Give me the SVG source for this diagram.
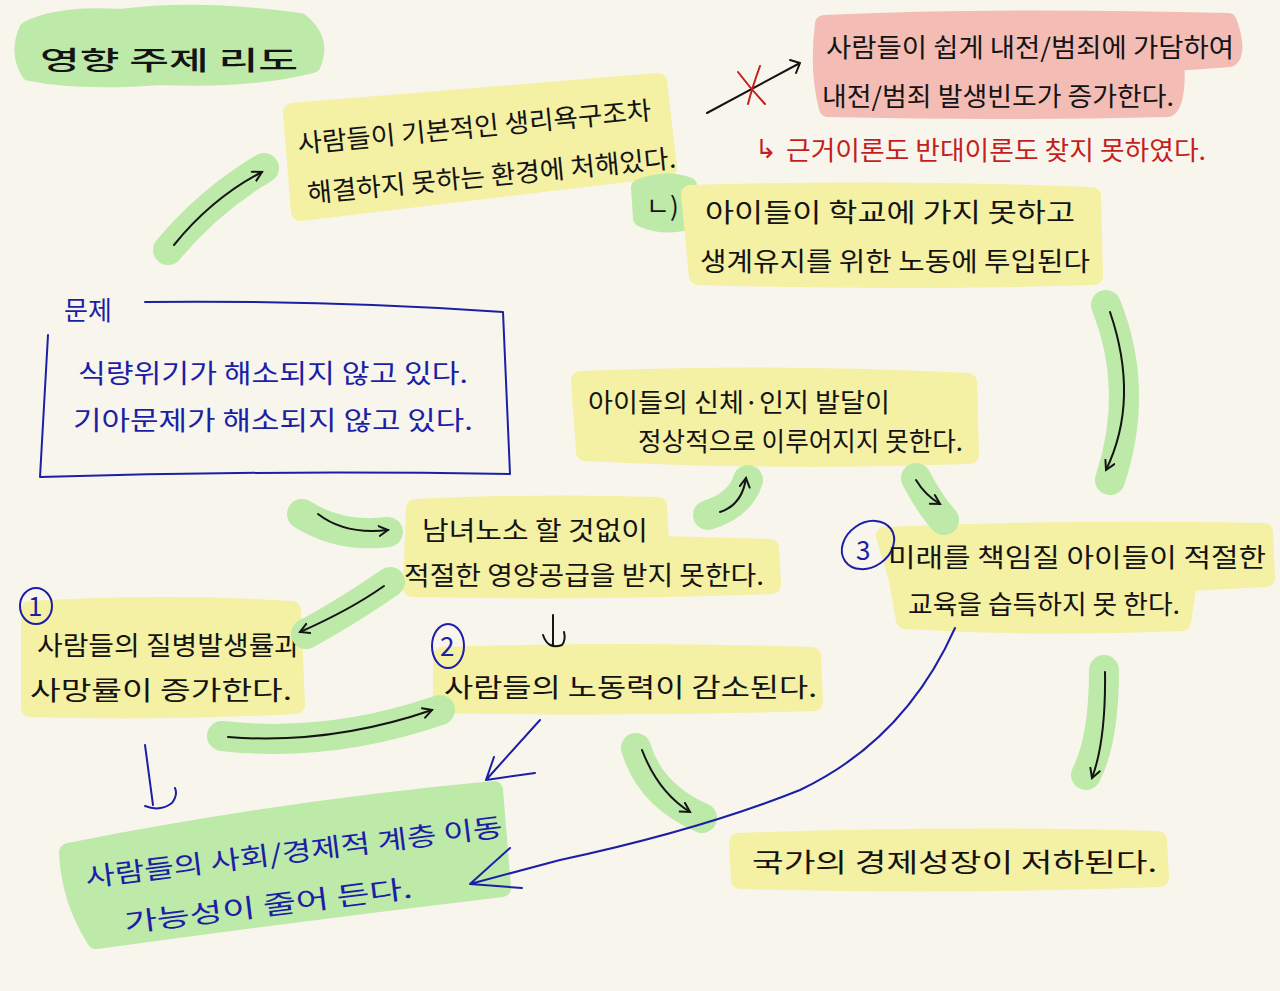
<svg xmlns="http://www.w3.org/2000/svg" width="1280" height="991" viewBox="0 0 1280 991">
<style>
.t{font-family:"Noto Sans CJK KR","Noto Sans",sans-serif;font-size:26px;fill:#141414}
.b{fill:#1c1fa6}
.r{fill:#c41e1e}
.hy{fill:#f4f0a4;stroke:#f4f0a4;stroke-width:18;stroke-linejoin:round}
.hg{fill:#bde9a9;stroke:#bde9a9;stroke-width:18;stroke-linejoin:round}
.hp{fill:#f3bcb4;stroke:#f3bcb4;stroke-width:18;stroke-linejoin:round}
.gs{fill:none;stroke:#bde9a9;stroke-width:30;stroke-linecap:round}
.k{fill:none;stroke:#141414;stroke-width:2;stroke-linecap:round;stroke-linejoin:round}
.bl{fill:none;stroke:#1c1fa6;stroke-width:2;stroke-linecap:round;stroke-linejoin:round}
.rl{fill:none;stroke:#c41e1e;stroke-width:2;stroke-linecap:round}
</style>
<defs>
<marker id="ah" markerWidth="14" markerHeight="14" refX="10" refY="6" orient="auto" markerUnits="userSpaceOnUse">
<path d="M1,1 L10,6 L1,11" fill="none" stroke="#141414" stroke-width="2" stroke-linecap="round"/>
</marker>
</defs>
<rect width="1280" height="991" fill="#f8f5ec"/>

<g id="title">
<path class="hg" d="M28,30 Q60,14 120,18 Q200,8 300,22 Q322,40 312,64 Q250,80 160,76 Q80,82 30,72 Q18,52 28,30 Z"/>
<text class="t" x="40" y="70" font-size="44" font-weight="500" textLength="258" lengthAdjust="spacingAndGlyphs">영향 주제 리도</text>
</g>

<g id="node-basic">
<path class="hy" d="M292,112 L658,82 L668,168 L300,212 Z"/>
<g transform="rotate(-5.5 480 160)">
<text class="t" x="300" y="136" textLength="355" lengthAdjust="spacingAndGlyphs">사람들이 기본적인 생리욕구조차</text>
<text class="t" x="305" y="186" textLength="370" lengthAdjust="spacingAndGlyphs">해결하지 못하는 환경에 처해있다.</text>
</g>
</g>

<g id="node-conflict">
<path class="hp" d="M824,24 Q1000,16 1228,22 Q1238,50 1230,58 L1175,62 Q1178,100 1168,108 Q1000,112 828,108 Q818,70 824,24 Z"/>
<text class="t" x="826" y="57" textLength="408" lengthAdjust="spacingAndGlyphs">사람들이 쉽게 내전/범죄에 가담하여</text>
<text class="t" x="822" y="106" textLength="352" lengthAdjust="spacingAndGlyphs">내전/범죄 발생빈도가 증가한다.</text>
<text class="t r" x="755" y="158">↳</text>
<text class="t r" x="786" y="160" textLength="420" lengthAdjust="spacingAndGlyphs">근거이론도 반대이론도 찾지 못하였다.</text>
</g>

<g id="node-labor">
<path class="hg" d="M640,188 Q665,178 688,186 L690,220 Q665,228 642,218 Z"/>
<path class="hy" d="M690,194 Q900,188 1092,196 L1094,276 Q900,282 698,276 Z"/>
<text class="t" x="646" y="216">ㄴ)</text>
<text class="t" x="705" y="222" textLength="370" lengthAdjust="spacingAndGlyphs">아이들이 학교에 가지 못하고</text>
<text class="t" x="700" y="271" textLength="390" lengthAdjust="spacingAndGlyphs">생계유지를 위한 노동에 투입된다</text>
</g>

<g id="node-problem">
<text class="t b" x="64" y="320" font-size="32">문제</text>
<path class="bl" d="M145,302 Q330,300 503,312 L510,474 Q270,470 40,477 L48,335"/>
<text class="t b" x="78" y="383" font-size="28" textLength="390" lengthAdjust="spacingAndGlyphs">식량위기가 해소되지 않고 있다.</text>
<text class="t b" x="73" y="430" font-size="28" textLength="400" lengthAdjust="spacingAndGlyphs">기아문제가 해소되지 않고 있다.</text>
</g>

<g id="node-development">
<path class="hy" d="M580,380 Q780,372 968,382 L970,455 Q780,462 585,452 Z"/>
<text class="t" x="588" y="412" textLength="302" lengthAdjust="spacingAndGlyphs">아이들의 신체·인지 발달이</text>
<text class="t" x="638" y="451" textLength="325" lengthAdjust="spacingAndGlyphs">정상적으로 이루어지지 못한다.</text>
</g>

<g id="node-nutrition">
<path class="hy" d="M415,508 Q540,502 658,506 L660,545 L770,548 L772,585 Q600,592 412,588 Z"/>
<text class="t" x="422" y="540" textLength="226" lengthAdjust="spacingAndGlyphs">남녀노소 할 것없이</text>
<text class="t" x="404" y="585" textLength="360" lengthAdjust="spacingAndGlyphs">적절한 영양공급을 받지 못한다.</text>
</g>

<g id="node-education">
<path class="hy" d="M885,536 Q1070,528 1264,532 L1266,578 L1188,582 L1182,622 Q1040,628 905,620 L898,580 Z"/>
<ellipse cx="868" cy="545" rx="28" ry="22" transform="rotate(-35 868 545)" fill="none" stroke="#1c1fa6" stroke-width="2"/>
<text class="t b" x="856" y="560" font-size="30">3</text>
<text class="t" x="888" y="567" textLength="378" lengthAdjust="spacingAndGlyphs">미래를 책임질 아이들이 적절한</text>
<text class="t" x="908" y="614" textLength="272" lengthAdjust="spacingAndGlyphs">교육을 습득하지 못 한다.</text>
</g>

<g id="node-disease">
<path class="hy" d="M30,610 Q170,602 292,610 L296,705 Q160,712 30,708 Z"/>
<ellipse cx="36" cy="606" rx="16" ry="18" fill="none" stroke="#1c1fa6" stroke-width="2"/>
<text class="t b" x="28" y="616" font-size="24">1</text>
<text class="t" x="37" y="655" textLength="263" lengthAdjust="spacingAndGlyphs">사람들의 질병발생률과</text>
<text class="t" x="30" y="700" textLength="262" lengthAdjust="spacingAndGlyphs">사망률이 증가한다.</text>
</g>

<g id="node-workforce">
<path class="hy" d="M442,656 Q630,650 812,656 L814,702 Q630,708 442,704 Z"/>
<ellipse cx="448" cy="646" rx="16" ry="22" fill="none" stroke="#1c1fa6" stroke-width="2"/>
<text class="t b" x="440" y="656" font-size="26">2</text>
<text class="t" x="444" y="697" textLength="373" lengthAdjust="spacingAndGlyphs">사람들의 노동력이 감소된다.</text>
</g>

<g id="node-mobility">
<path class="hg" d="M68,852 Q280,810 494,790 L502,888 Q300,912 96,940 Q70,900 68,852 Z"/>
<g transform="rotate(-7 290 862)">
<text class="t b" x="85" y="862" font-size="28" textLength="420" lengthAdjust="spacingAndGlyphs">사람들의 사회/경제적 계층 이동</text>
<text class="t b" x="118" y="912" font-size="28" textLength="290" lengthAdjust="spacingAndGlyphs">가능성이 줄어 든다.</text>
</g>
</g>

<g id="node-growth">
<path class="hy" d="M738,842 Q950,834 1158,840 L1160,878 Q950,886 740,880 Z"/>
<text class="t" x="752" y="872" textLength="405" lengthAdjust="spacingAndGlyphs">국가의 경제성장이 저하된다.</text>
</g>

<g id="connectors">
<path class="gs" d="M168,250 Q210,200 264,168"/>
<path class="k" d="M174,245 Q212,198 262,172" marker-end="url(#ah)"/>
<path class="gs" d="M302,514 Q340,538 388,532"/>
<path class="k" d="M318,514 Q345,535 388,530" marker-end="url(#ah)"/>
<path class="gs" d="M390,582 Q350,610 306,634"/>
<path class="k" d="M384,586 Q350,610 300,632" marker-end="url(#ah)"/>
<path class="gs" d="M708,515 Q740,505 748,480"/>
<path class="k" d="M720,512 Q742,505 746,478" marker-end="url(#ah)"/>
<path class="gs" d="M916,478 Q930,505 944,520"/>
<path class="k" d="M916,480 Q925,495 940,504" marker-end="url(#ah)"/>
<path class="gs" d="M1106,305 Q1140,390 1110,480"/>
<path class="k" d="M1110,312 Q1140,400 1106,470" marker-end="url(#ah)"/>
<path class="gs" d="M222,736 Q330,748 440,710"/>
<path class="k" d="M228,737 Q330,745 432,710" marker-end="url(#ah)"/>
<path class="gs" d="M636,748 Q650,795 702,818"/>
<path class="k" d="M642,750 Q658,792 690,812" marker-end="url(#ah)"/>
<path class="gs" d="M1104,670 Q1104,740 1086,775"/>
<path class="k" d="M1105,672 Q1106,740 1092,778" marker-end="url(#ah)"/>
<path class="k" d="M553,615 L553,645 M543,635 Q548,650 562,645 Q566,640 564,632"/>
<path class="k" d="M707,113 L800,63 M800,63 L790,60 M800,63 L796,73"/>
<path class="rl" d="M738,72 Q750,88 765,104 M760,66 Q752,88 748,104"/>
<path class="bl" d="M145,745 L153,805 M145,806 Q160,812 172,803 Q178,795 175,788"/>
<path class="bl" d="M540,720 L486,780 M486,780 L535,773 M486,780 L494,757"/>
<path class="bl" d="M955,628 Q905,740 800,790 Q700,830 560,860 L470,884 M470,884 L510,848 M470,884 L522,888"/>
</g>
</svg>
